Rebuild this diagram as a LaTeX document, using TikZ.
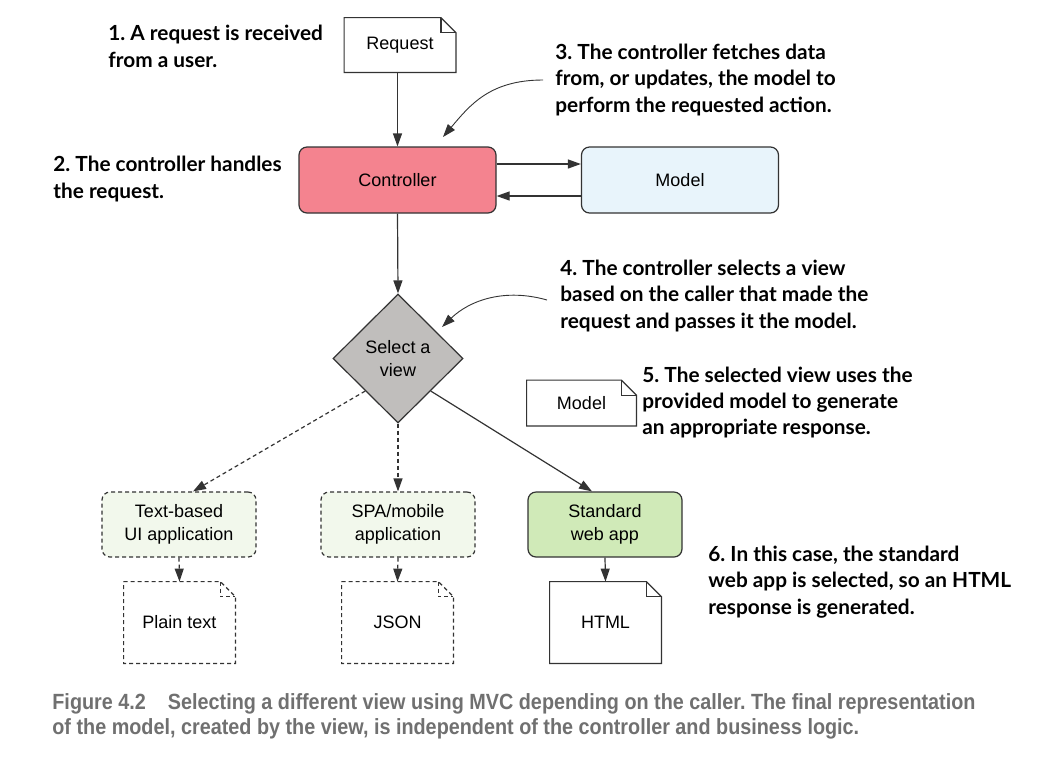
\documentclass[tikz,border=0pt]{standalone}
\usepackage{fontspec}
\setmainfont{Liberation Sans}
\newfontfamily\notefont{Lato}
\newfontfamily\capfont[FakeStretch=0.9]{Liberation Sans}
\usetikzlibrary{shapes.geometric,arrows.meta,calc}
\frenchspacing

\definecolor{ctrlpink}{RGB}{244,131,143}
\definecolor{modelblue}{RGB}{232,244,251}
\definecolor{selgray}{RGB}{192,190,188}
\definecolor{optgreen}{RGB}{242,248,236}
\definecolor{webgreen}{RGB}{208,234,184}
\definecolor{edgegray}{RGB}{51,51,51}
\definecolor{capgray}{RGB}{112,112,112}

\tikzset{
  box/.style={draw=edgegray, line width=0.6pt, rounded corners=4pt, minimum width=98.5pt, minimum height=33pt, font=\fontsize{9}{11.5}\selectfont, align=center},
  viewbox/.style={box, minimum width=77pt, minimum height=32.5pt},
  dashline/.style={dash pattern=on 2pt off 1.5pt},
  optbox/.style={viewbox, dashline, fill=optgreen},
  paper/.style={minimum width=55.5pt, minimum height=40.5pt, inner sep=0pt, font=\fontsize{9}{11.5}\selectfont},
  note/.style={anchor=west, inner sep=0pt, align=left, font=\notefont\bfseries\fontsize{10.4}{13.2}\selectfont},
  arr/.style={-{Triangle[length=6.5pt,width=4.5pt]}, draw=edgegray, line width=0.6pt},
}

% page outline with a folded corner
\newcommand{\paperoutline}[2][]{%
  \draw[draw=edgegray, line width=0.6pt, #1] (#2.north west) -- ([xshift=-7.5pt]#2.north east) -- ([yshift=-7.5pt]#2.north east) -- (#2.south east) -- (#2.south west) -- cycle;
  \draw[draw=edgegray, line width=0.6pt, #1] ([xshift=-7.5pt]#2.north east) |- ([yshift=-7.5pt]#2.north east);
}

\begin{document}
\begin{tikzpicture}[x=0.5pt, y=-0.5pt]
    \useasboundingbox (0,0) rectangle (1039,757);

    % controller and model
    \node[paper, minimum height=27pt] (req) at (400,45) {Request};
    \paperoutline{req}
    \node[box, fill=ctrlpink] (ctrl) at (397.5,180) {Controller};
    \node[box, fill=modelblue] (model) at (680,180) {Model};

    \draw[arr] (req.south -| ctrl.north) -- (ctrl.north);
    \draw[arr] ([yshift=8pt]ctrl.east) -- ([yshift=8pt]model.west);
    \draw[arr] ([yshift=-8pt]model.west) -- ([yshift=-8pt]ctrl.east);

    % view selection
    \node[diamond, draw=edgegray, fill=selgray, line width=0.6pt, minimum width=65pt, minimum height=64.5pt, inner sep=0pt, align=center, font=\fontsize{9}{11.5}\selectfont] (sel) at (398,358.5) {Select a\\view};
    \draw[arr] (ctrl.south) -- (sel.north);

    \node[paper, minimum width=54.5pt, minimum height=22.5pt] (mdoc) at (581.5,403) {Model};
    \paperoutline{mdoc}

    \node[optbox] (tui) at (179,524.5) {Text-based\\UI application};
    \node[optbox] (spa) at (398,524.5) {SPA/mobile\\application};
    \node[viewbox, fill=webgreen] (web) at (605,524.5) {Standard\\web app};

    \draw[arr, dashline] ($(sel.west)!0.5!(sel.south)$) -- ([xshift=7pt]tui.north);
    \draw[arr, dashline] (sel.south) -- (spa.north);
    \draw[arr] ($(sel.east)!0.5!(sel.south)$) -- ([xshift=-6.5pt]web.north);

    % responses
    \node[paper] (plain) at (179.5,622.5) {Plain text};
    \paperoutline[dashline]{plain}
    \node[paper] (json) at (397.5,622.5) {JSON};
    \paperoutline[dashline]{json}
    \node[paper] (html) at (605.5,622.5) {HTML};
    \paperoutline{html}

    \draw[arr, dashline] (tui.south) -- (plain.north);
    \draw[arr, dashline] (spa.south) -- (json.north);
    \draw[arr] (web.south) -- (html.north);

    % notes
    \node[note] (n1) at (108,46.5) {1. A request is received\\from a user.};
    \node[note] (n2) at (53,179) {2. The controller handles\\the request.};
    \node[note] (n3) at (555,80) {3. The controller fetches data\\from, or updates, the model to\\perform the requested action.};
    \node[note] (n4) at (560,296) {4. The controller selects a view\\based on the caller that made the\\request and passes it the model.};
    \node[note] (n5) at (642,402.5) {5. The selected view uses the\\provided model to generate\\an appropriate response.};
    \node[note] (n6) at (708,582) {6. In this case, the standard\\web app is selected, so an HTML\\response is generated.};

    \coordinate (tip3) at (443,137);
    \coordinate (tip4) at (442,327);
    \draw[arr, line width=0.45pt] ([xshift=-6pt]n3.west) .. controls (490,80) and (470,105) .. (tip3);
    \draw[arr, line width=0.45pt] ([xshift=-6.5pt,yshift=-2pt]n4.west) .. controls (505,288) and (470,300) .. (tip4);

    % caption
    \node[anchor=west, inner sep=0pt, align=left, text=capgray, font=\capfont\bfseries\fontsize{11}{12.5}\selectfont] (cap) at (52,716.5) {Figure 4.2\hspace{1em}Selecting a different view using MVC depending on the caller. The final representation\\of the model, created by the view, is independent of the controller and business logic.};
\end{tikzpicture}
\end{document}
